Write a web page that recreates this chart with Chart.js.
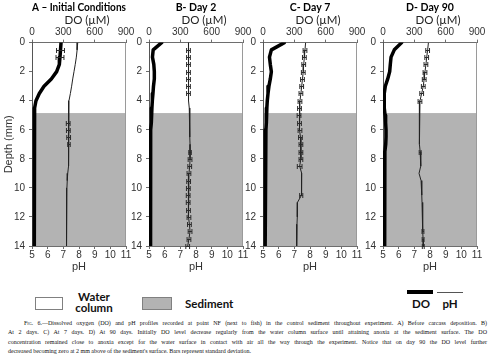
<!DOCTYPE html>
<html>
<head>
<meta charset="utf-8">
<script src="https://cdn.jsdelivr.net/npm/chart.js@4.4.1/dist/chart.umd.min.js"></script>
<style>
  body { margin:0; width:490px; height:363px; background:#fff; position:relative; overflow:hidden; font-family:Lato, sans-serif; }
  canvas { position:absolute; top:0; }
  .lg { position:absolute; font-weight:bold; font-size:11.5px; color:#111; line-height:11px; text-align:center; }
  .box { position:absolute; box-sizing:border-box; border:1px solid #808080; }
  .cap { position:absolute; left:8px; width:479px; font-family:"Liberation Serif", "Times New Roman", serif; font-size:6px; line-height:9px; color:#111; text-align:justify; text-align-last:justify; }
</style>
</head>
<body>
<canvas id="pA"></canvas>
<canvas id="pB"></canvas>
<canvas id="pC"></canvas>
<canvas id="pD"></canvas>

<div class="box" style="left:35px;top:297px;width:28px;height:13px;background:#fff;"></div>
<div class="lg" style="left:72px;top:291px;width:44px;">Water<br>column</div>
<div class="box" style="left:142px;top:297px;width:30px;height:13px;background:#b3b3b3;"></div>
<div class="lg" style="left:185px;top:298px;">Sediment</div>
<div style="position:absolute;left:407px;top:290px;width:26px;height:4px;background:#000;"></div>
<div style="position:absolute;left:437px;top:292px;width:26px;height:1px;background:#555;"></div>
<div class="lg" style="left:405px;top:298px;width:32px;">DO</div>
<div class="lg" style="left:434px;top:298px;width:32px;">pH</div>

<div class="cap" style="top:319px;left:24px;width:463px;"><span style="font-variant:small-caps">Fig.</span> 6.—Dissolved oxygen (DO) and pH profiles recorded at point NF (next to fish) in the control sediment throughout experiment. A) Before carcass deposition. B)</div>
<div class="cap" style="top:328.4px;">At 2 days. C) At 7 days. D) At 90 days. Initially DO level decrease regularly from the water column surface until attaining anoxia at the sediment surface. The DO</div>
<div class="cap" style="top:337.8px;">concentration remained close to anoxia except for the water surface in contact with air all the way through the experiment. Notice that on day 90 the DO level further</div>
<div class="cap" style="top:347.2px;text-align:left;text-align-last:left;">decreased becoming zero at 2 mm above of the sediment's surface. Bars represent standard deviation.</div>

<script>
// profundidad (mm) de cada medición
const depthMM = [0,0.5,1,1.5,2,2.5,3,3.5,4,4.5,5,5.5,6,6.5,7,7.5,8,8.5,9,9.5,10,10.5,11,11.5,12,12.5,13,13.5,14];
const sedimentTopMM = 4.85;

// A - Initial Conditions
const doA   = [278,273,268,262,236,185,115,70,38,25,22,22,22,22,22,22,22,22,22,22,22,22,22,22,22,22,22,22,22];
const doSdA = [0,38,38,0,0,0,0,0,0,0,0,0,0,0,0,0,0,0,0,0,0,0,0,0,0,0,0,0,0];
const phA   = [7.92,7.88,7.83,7.76,7.68,7.6,7.53,7.45,7.36,7.32,7.31,7.31,7.32,7.34,7.36,7.36,7.36,7.32,7.28,7.25,7.23,7.22,7.21,7.2,7.2,7.2,7.2,7.2,7.2];
const phSdA = [0,0,0,0,0,0,0,0,0,0,0,0.12,0.12,0.12,0.08,0,0,0,0,0,0,0,0,0,0,0,0,0,0];

// B - Day 2
const doB   = [121,40,33,46,51,51,43,38,32,28,25,20,16,15,15,15,15,15,15,15,15,15,15,15,15,15,15,15,15];
const phB   = [7.52,7.52,7.52,7.52,7.52,7.52,7.52,7.52,7.54,7.57,7.6,7.6,7.6,7.61,7.62,7.62,7.62,7.6,7.55,7.53,7.51,7.5,7.5,7.52,7.55,7.58,7.62,7.55,7.47];
const phSdB = [0,0.12,0.12,0.12,0.12,0.12,0.12,0.12,0,0,0,0,0,0,0,0.08,0.12,0.12,0.12,0.12,0.12,0.12,0.12,0.12,0.12,0.12,0.12,0.12,0.12];

// C - Day 7
const doC   = [204,80,62,70,80,70,57,48,41,37,34,31,28,26,24,22,20,20,20,20,20,20,20,20,20,20,20,20,20];
const phC   = [7.72,7.68,7.64,7.6,7.57,7.52,7.47,7.42,7.36,7.33,7.3,7.33,7.36,7.39,7.42,7.42,7.42,7.34,7.47,7.47,7.47,7.44,7.2,7.19,7.19,7.17,7.15,7.15,7.15];
const phSdC = [0,0.12,0.12,0.12,0.12,0.12,0.12,0.12,0.12,0.12,0.12,0.12,0.12,0.12,0.12,0.12,0.12,0.15,0,0,0,0.1,0,0,0,0,0,0,0];

// D - Day 90
const doD   = [179,108,77,70,64,45,22,12,10,14,20,25,29,29,26,18,16,16,16,16,16,16,16,16,16,16,16,16,16];
const phD   = [7.9,7.85,7.79,7.74,7.68,7.63,7.57,7.47,7.36,7.33,7.32,7.31,7.3,7.33,7.36,7.37,7.4,7.42,7.3,7.43,7.47,7.48,7.49,7.51,7.53,7.54,7.55,7.56,7.57];
const phSdD = [0,0.12,0.12,0.12,0.12,0.12,0.12,0.12,0.12,0,0,0,0,0,0,0.06,0,0,0,0,0,0,0,0,0,0,0.06,0.06,0.06];

const tickFont = {family: '"Liberation Sans", Arial, sans-serif', size: 10};
const axisCol = '#6e6e6e';

// sedimento, barras de error, borde derecho y título DO
const panelExtras = {
  id: 'panelExtras',
  beforeDraw(chart) {
    const {ctx, chartArea: a, scales} = chart;
    const top = scales.y.getPixelForValue(sedimentTopMM);
    ctx.save();
    ctx.fillStyle = '#b3b3b3';
    ctx.fillRect(a.left, top, a.right - a.left, a.bottom - top);
    ctx.restore();
  },
  afterDatasetsDraw(chart) {
    const {ctx, scales} = chart;
    ctx.save();
    ctx.strokeStyle = '#2a2a2a';
    ctx.lineWidth = 1;
    chart.data.datasets.forEach(ds => {
      if (!ds.errorX) return;
      const xs = scales[ds.xAxisID];
      ds.data.forEach((p, j) => {
        const e = ds.errorX[j];
        if (!e) return;
        const y = Math.round(scales.y.getPixelForValue(p.y)) + 0.5;
        const x1 = xs.getPixelForValue(p.x - e), x2 = xs.getPixelForValue(p.x + e);
        ctx.beginPath();
        ctx.moveTo(x1, y); ctx.lineTo(x2, y);
        ctx.moveTo(x1, y - 2.5); ctx.lineTo(x1, y + 2.5);
        ctx.moveTo(x2, y - 2.5); ctx.lineTo(x2, y + 2.5);
        ctx.stroke();
      });
    });
    ctx.restore();
  },
  afterDraw(chart) {
    const {ctx, chartArea: a} = chart;
    ctx.save();
    ctx.strokeStyle = '#9a9a9a';
    ctx.lineWidth = 1;
    ctx.beginPath();
    ctx.moveTo(Math.round(a.right) - 0.5, a.top);
    ctx.lineTo(Math.round(a.right) - 0.5, a.bottom);
    ctx.stroke();
    ctx.fillStyle = '#222';
    ctx.font = '11.5px Lato, sans-serif';
    ctx.textAlign = 'center';
    ctx.textBaseline = 'middle';
    ctx.fillText('DO (µM)', (a.left + a.right) / 2 + 8, 20.5);
    ctx.restore();
  }
};

function makePanel(id, left, yW, title, doVals, doSd, phVals, phSd, depthTitle) {
  const cv = document.getElementById(id);
  cv.width = yW + 94 + 12;
  cv.height = 274;
  cv.style.left = left + 'px';
  return new Chart(cv, {
    type: 'scatter',
    data: {
      datasets: [
        {
          label: 'pH',
          data: depthMM.map((d, i) => ({x: phVals[i], y: d})),
          xAxisID: 'xPH', yAxisID: 'y',
          showLine: true, borderColor: '#222', borderWidth: 1, pointRadius: 0,
          errorX: phSd
        },
        {
          label: 'DO',
          data: depthMM.map((d, i) => ({x: doVals[i], y: d})),
          xAxisID: 'xDO', yAxisID: 'y',
          showLine: true, borderColor: '#000', borderWidth: 3.5, pointRadius: 0,
          borderJoinStyle: 'round', borderCapStyle: 'round',
          errorX: doSd
        }
      ]
    },
    options: {
      responsive: false,
      animation: false,
      events: [],
      layout: {padding: {left: 0, right: 12, top: 0, bottom: 0}},
      plugins: {
        legend: {display: false},
        tooltip: {enabled: false},
        title: {
          display: true, text: title, fullSize: false, color: '#000',
          font: {family: 'Lato', weight: 'bold', size: 10.5, lineHeight: 1.2},
          padding: {top: 1, bottom: 0}
        }
      },
      scales: {
        xDO: {
          type: 'linear', position: 'top', min: 0, max: 900,
          ticks: {stepSize: 300, font: tickFont, color: '#333', padding: 1, maxRotation: 0, autoSkip: false},
          grid: {drawOnChartArea: false, tickLength: 3, color: axisCol},
          border: {color: axisCol},
          afterFit(s) { s.height = 29; }
        },
        xPH: {
          type: 'linear', position: 'bottom', min: 5, max: 11,
          ticks: {stepSize: 1, font: tickFont, color: '#333', padding: 0, maxRotation: 0, autoSkip: false},
          grid: {drawOnChartArea: false, tickLength: 3, color: axisCol},
          border: {color: axisCol},
          title: {display: true, text: 'pH', color: '#333', font: {family: '"Liberation Sans", Arial', size: 11, lineHeight: 1.2}, padding: 0},
          afterFit(s) { s.height = 28; }
        },
        y: {
          type: 'linear', reverse: true, min: 0, max: 14,
          ticks: {stepSize: 2, font: tickFont, color: '#333', padding: 4, autoSkip: false},
          grid: {drawOnChartArea: false, tickLength: 3, color: axisCol},
          border: {color: '#555'},
          title: {display: depthTitle, text: 'Depth (mm)', color: '#333', font: {family: '"Liberation Sans", Arial', size: 11, lineHeight: 1.2}, padding: {top: 2, bottom: 0}},
          afterFit(s) { s.width = yW; }
        }
      }
    },
    plugins: [panelExtras]
  });
}

makePanel('pA', 0, 32, 'A – Initial Conditions', doA, doSdA, phA, phSdA, true);
makePanel('pB', 127, 22, 'B- Day 2', doB, null, phB, phSdB, false);
makePanel('pC', 241, 22, 'C- Day 7', doC, null, phC, phSdC, false);
makePanel('pD', 361, 22, 'D- Day 90', doD, null, phD, phSdD, false);
</script>
</body>
</html>
